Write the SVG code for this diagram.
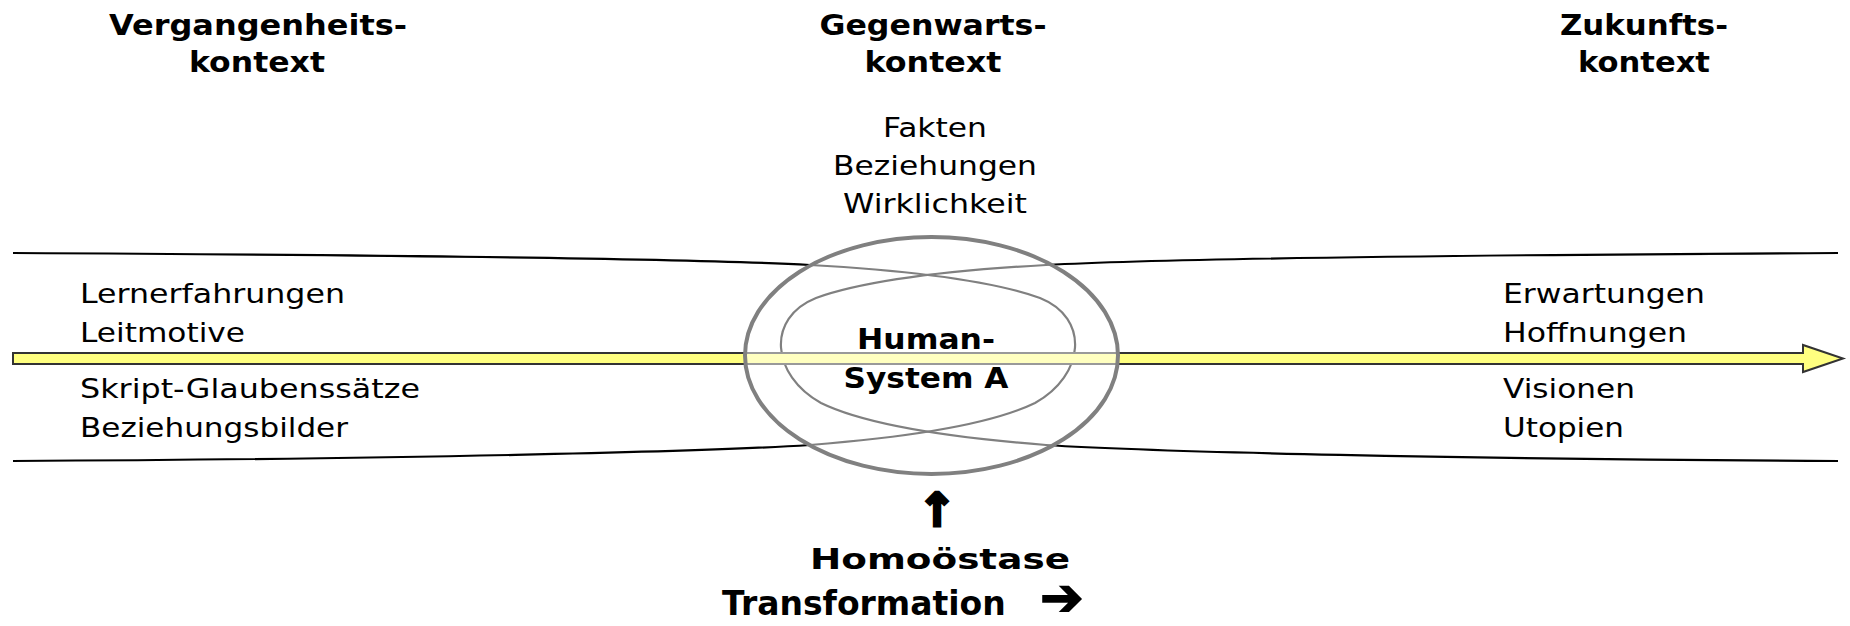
<svg xmlns="http://www.w3.org/2000/svg" width="1850" height="626" viewBox="0 0 1850 626">
  <style>
    .head { font-family: "DejaVu Sans", Verdana, sans-serif; font-weight: bold; font-size: 29px; fill: #000; text-anchor: middle; }
    .item { font-family: "DejaVu Sans", Verdana, sans-serif; font-size: 27px; fill: #000; }
    .mid { text-anchor: middle; }
    .core { font-family: "DejaVu Sans", Verdana, sans-serif; font-weight: bold; font-size: 28px; fill: #000; text-anchor: middle; }
    .sym { stroke: #000; stroke-linejoin: miter; }
    .band { fill: none; stroke: #000; stroke-width: 2.2; }
    .flow { fill: #ffff80; stroke: #333; stroke-width: 2; stroke-linejoin: miter; }
    .system { fill: #fff; fill-opacity: 0.5; stroke: #808080; stroke-width: 4; }
  </style>

  <!-- time band, loops and the time arrow -->
  <g id="connectors">
    <path class="band" d="M13,253 C400,255 700,259 810,265 C900,270 990,280 1040,298 C1090,318 1085,375 1035,403 C990,425 900,438 810,445 C700,452 400,459 13,461"/>
    <path class="band" d="M1838,253 C1456,255 1156,259 1046,265 C956,270 866,280 816,298 C766,318 771,375 821,403 C866,425 956,438 1046,445 C1156,452 1456,459 1838,461"/>
    <polygon class="flow" points="13,353 1803,353 1803,345 1843,358.5 1803,372 1803,364 13,364"/>
  </g>

  <!-- central system -->
  <g id="system-a">
    <ellipse class="system" cx="931.5" cy="355.5" rx="186.5" ry="118.5"/>
    <text class="core" x="926" y="349" textLength="138" lengthAdjust="spacingAndGlyphs">Human-</text>
    <text class="core" x="926" y="388" textLength="165" lengthAdjust="spacingAndGlyphs">System A</text>
  </g>

  <!-- headings -->
  <g id="head-past">
    <text class="head" x="258" y="35" textLength="298" lengthAdjust="spacingAndGlyphs">Vergangenheits-</text>
    <text class="head" x="257" y="72" textLength="136" lengthAdjust="spacingAndGlyphs">kontext</text>
  </g>
  <g id="head-present">
    <text class="head" x="933" y="35" textLength="227" lengthAdjust="spacingAndGlyphs">Gegenwarts-</text>
    <text class="head" x="933" y="72" textLength="137" lengthAdjust="spacingAndGlyphs">kontext</text>
  </g>
  <g id="head-future">
    <text class="head" x="1644" y="35" textLength="168" lengthAdjust="spacingAndGlyphs">Zukunfts-</text>
    <text class="head" x="1644" y="72" textLength="132" lengthAdjust="spacingAndGlyphs">kontext</text>
  </g>

  <!-- present context items -->
  <g id="present-items">
    <text class="item mid" x="935" y="137" textLength="104" lengthAdjust="spacingAndGlyphs">Fakten</text>
    <text class="item mid" x="935" y="175" textLength="204" lengthAdjust="spacingAndGlyphs">Beziehungen</text>
    <text class="item mid" x="935" y="213" textLength="184" lengthAdjust="spacingAndGlyphs">Wirklichkeit</text>
  </g>

  <!-- past context items -->
  <g id="past-items">
    <text class="item" x="80" y="303" textLength="265" lengthAdjust="spacingAndGlyphs">Lernerfahrungen</text>
    <text class="item" x="80" y="342" textLength="165" lengthAdjust="spacingAndGlyphs">Leitmotive</text>
    <text class="item" x="80" y="398" textLength="340" lengthAdjust="spacingAndGlyphs">Skript-Glaubenssätze</text>
    <text class="item" x="80" y="437" textLength="268" lengthAdjust="spacingAndGlyphs">Beziehungsbilder</text>
  </g>

  <!-- future context items -->
  <g id="future-items">
    <text class="item" x="1503" y="303" textLength="202" lengthAdjust="spacingAndGlyphs">Erwartungen</text>
    <text class="item" x="1503" y="342" textLength="184" lengthAdjust="spacingAndGlyphs">Hoffnungen</text>
    <text class="item" x="1503" y="398" textLength="132" lengthAdjust="spacingAndGlyphs">Visionen</text>
    <text class="item" x="1503" y="437" textLength="121" lengthAdjust="spacingAndGlyphs">Utopien</text>
  </g>

  <!-- change modes -->
  <g id="modes">
    <text class="core sym" x="937" y="526" style="font-size:46px; stroke-width:3">↑</text>
    <text class="core" x="940" y="569" style="font-size:29px" textLength="260" lengthAdjust="spacingAndGlyphs">Homoöstase</text>
    <text class="core" x="722" y="615" style="font-size:33px; text-anchor:start">Transformation <tspan class="sym" x="1040" style="font-size:52px; stroke-width:1.5">➔</tspan></text>
  </g>
</svg>
